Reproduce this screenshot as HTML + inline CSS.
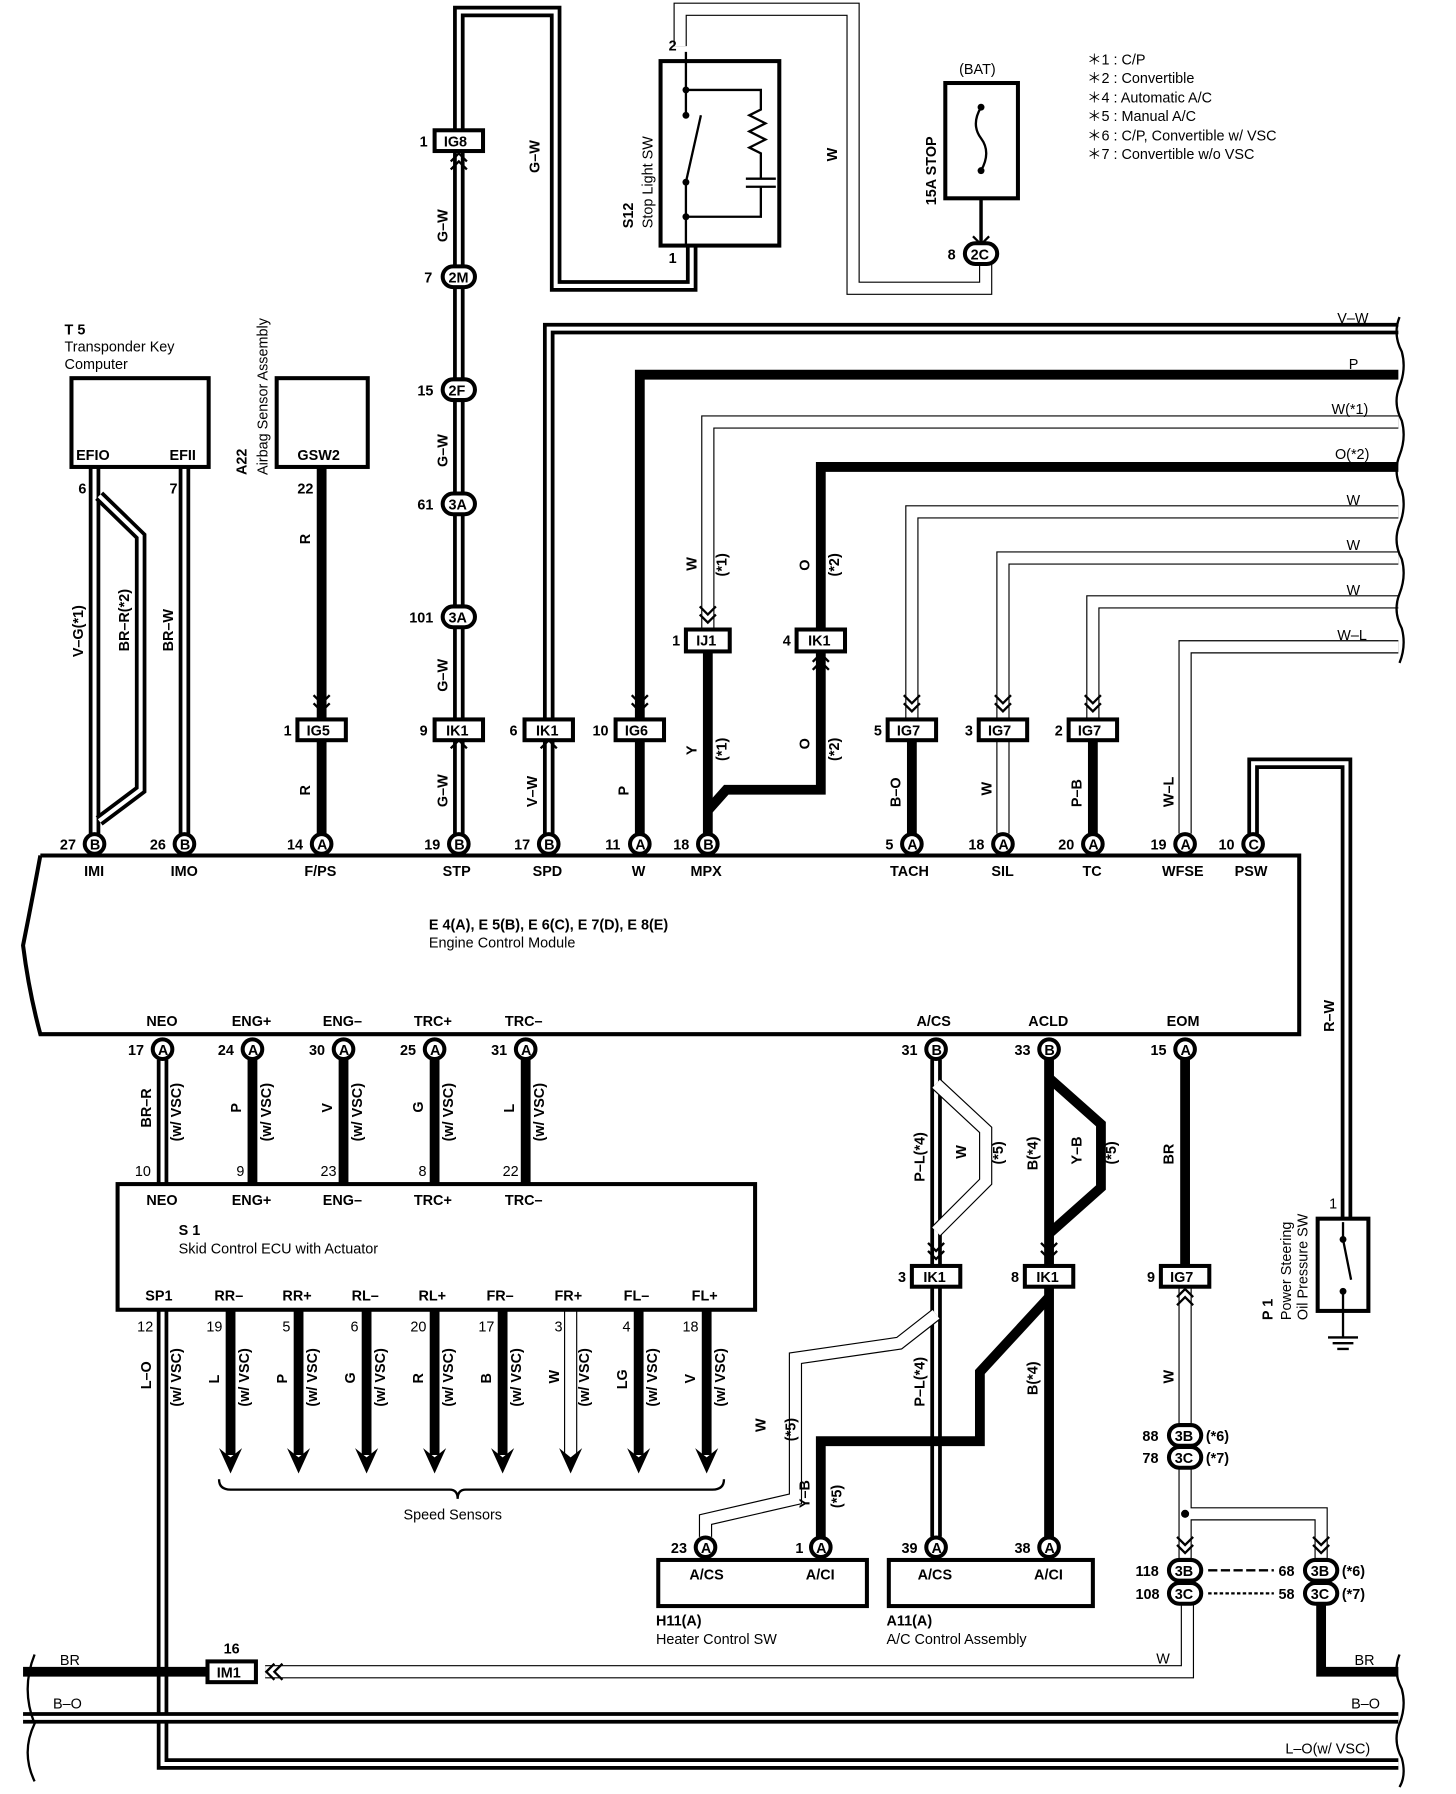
<!DOCTYPE html>
<html><head><meta charset="utf-8"><style>
html,body{margin:0;padding:0;background:#fff}
svg{display:block}
text{font-family:"Liberation Sans",sans-serif;font-weight:bold;font-size:12.5px;fill:#000}
.n{font-weight:normal}
.k{stroke:#000;stroke-width:8.5;fill:none;stroke-linejoin:miter}
.o{stroke:#000;stroke-width:10;fill:none}
.i{stroke:#fff;stroke-width:3.5;fill:none}
.wo{stroke:#000;stroke-width:11.5;fill:none}
.wi{stroke:#fff;stroke-width:9.5;fill:none}
.b{stroke:#000;stroke-width:3.5;fill:#fff}
.l{stroke:#000;stroke-width:2;fill:none}
</style></head><body>
<svg width="1456" height="1794" viewBox="0 0 1263 1556" preserveAspectRatio="none" xmlns="http://www.w3.org/2000/svg">
<defs>
<path id="d1" d="M398,113 V10 H482 V248 H600 V213"/>
<path id="d3" d="M398,131 V723"/>
<path id="d4" d="M1213,285 H476 V723"/>
<path id="d11" d="M1087,723 V662 H1168 V1060"/>
<path id="d12" d="M160,405 V723"/>
<path id="d13" d="M82,405 V723"/>
<path id="d13b" d="M86,430 L122,465 V685 L86,712"/>
<path id="d14" d="M141,919 V1027"/>
<path id="d15" d="M812,919 V1098"/>
<path id="d16" d="M812,1116 V1333"/>
<path id="d19" d="M141,1136 V1530 H1213"/>
<path id="d19b" d="M20,1490 H1213"/>
<path id="w2" d="M590,40 V8 H740 V250 H855 V228"/>
<path id="w5" d="M1213,366 H614 V546"/>
<path id="w6" d="M1213,444 H791 V624"/>
<path id="w7" d="M1213,484 H870 V624"/>
<path id="w8" d="M1213,522 H948 V624"/>
<path id="w9" d="M1213,561 H1028 V723"/>
<path id="w10" d="M870,642 V723"/>
<path id="w15b" d="M812,940 L855,980 V1025 L812,1068"/>
<path id="w17" d="M812,1140 L780,1165 L690,1178 V1300 L612,1318 V1333"/>
<path id="w18" d="M495,1136 V1265"/>
<path id="w20" d="M230,1450 H1030 V1392"/>
<path id="w21" d="M1028,1116 V1236"/>
<path id="w22" d="M1028,1273 V1352 M1028,1313 H1146 V1352"/>
</defs>

<g>
<use href="#d1" class="o"/><use href="#d1" class="i"/>
<use href="#d3" class="o"/><use href="#d3" class="i"/>
<use href="#d4" class="o"/><use href="#d4" class="i"/>
<use href="#d11" class="o"/><use href="#d11" class="i"/>
<use href="#d12" class="o"/><use href="#d12" class="i"/>
<use href="#d13" class="o"/><use href="#d13" class="i"/>
<use href="#d13b" class="o"/><use href="#d13b" class="i"/>
<use href="#d14" class="o"/><use href="#d14" class="i"/>
<use href="#d15" class="o"/><use href="#d15" class="i"/>
<use href="#d16" class="o"/><use href="#d16" class="i"/>
<use href="#d19" class="o"/><use href="#d19" class="i"/>
<use href="#d19b" class="o"/><use href="#d19b" class="i"/>
</g>
<g>
<use href="#w2" class="wo"/><use href="#w2" class="wi"/>
<use href="#w5" class="wo"/><use href="#w5" class="wi"/>
<use href="#w6" class="wo"/><use href="#w6" class="wi"/>
<use href="#w7" class="wo"/><use href="#w7" class="wi"/>
<use href="#w8" class="wo"/><use href="#w8" class="wi"/>
<use href="#w9" class="wo"/><use href="#w9" class="wi"/>
<use href="#w10" class="wo"/><use href="#w10" class="wi"/>
<use href="#w15b" class="wo"/><use href="#w15b" class="wi"/>
<use href="#w17" class="wo"/><use href="#w17" class="wi"/>
<use href="#w18" class="wo"/><use href="#w18" class="wi"/>
<use href="#w20" class="wo"/><use href="#w20" class="wi"/>
<use href="#w21" class="wo"/><use href="#w21" class="wi"/>
<use href="#w22" class="wo"/><use href="#w22" class="wi"/>
</g>
<g class="k">
<path d="M279,405 V723"/>
<path d="M1213,325 H555 V723"/>
<path d="M1213,405 H712 V546"/>
<path d="M712,565 V685 H630 L614,703"/>
<path d="M614,565 V723"/>
<path d="M791,642 V723"/><path d="M948,642 V723"/>
<path d="M219,919 V1027"/><path d="M298,919 V1027"/><path d="M377,919 V1027"/><path d="M456,919 V1027"/>
<path d="M910,919 V1098"/><path d="M910,935 L955,975 V1030 L910,1070"/>
<path d="M910,1116 V1333"/><path d="M910,1125 L850,1190 V1250 H712 V1333"/>
<path d="M1028,919 V1098"/>
<path d="M200,1136 V1262"/><path d="M259,1136 V1262"/><path d="M318,1136 V1262"/><path d="M377,1136 V1262"/><path d="M436,1136 V1262"/><path d="M554,1136 V1262"/><path d="M613,1136 V1262"/>
<path d="M20,1450 H180"/><path d="M1146,1392 V1450 H1213"/>
<path d="M851,150 V210" style="stroke-width:3"/>
</g>
<g fill="#000">
<path d="M190,1256 L200,1278 L210,1256 L200,1264Z"/><path d="M249,1256 L259,1278 L269,1256 L259,1264Z"/>
<path d="M308,1256 L318,1278 L328,1256 L318,1264Z"/><path d="M367,1256 L377,1278 L387,1256 L377,1264Z"/>
<path d="M426,1256 L436,1278 L446,1256 L436,1264Z"/><path d="M485,1256 L495,1278 L505,1256 L495,1264Z"/>
<path d="M544,1256 L554,1278 L564,1256 L554,1264Z"/><path d="M603,1256 L613,1278 L623,1256 L613,1264Z"/>
</g>
<path class="l" d="M190,1283 Q190,1292 200,1292 H390 Q397,1292 397,1300 Q397,1292 404,1292 H618 Q628,1292 628,1283"/>
<text x="350" y="1318" class="n">Speed Sensors</text>

<g class="l" stroke-width="3">
<path d="M391,140 L398,133 L405,140 M391,147 L398,140 L405,147"/>
<path d="M391,642 L398,635 L405,642 M391,649 L398,642 L405,649"/>
<path d="M469,642 L476,635 L483,642 M469,649 L476,642 L483,649"/>
<path d="M705,574 L712,567 L719,574 M705,581 L712,574 L719,581"/>
<path d="M1021,1125 L1028,1118 L1035,1125 M1021,1132 L1028,1125 L1035,1132"/>
<path d="M272,610 L279,617 L286,610 M272,603 L279,610 L286,603"/>
<path d="M548,610 L555,617 L562,610 M548,603 L555,610 L562,603"/>
<path d="M607,533 L614,540 L621,533 M607,526 L614,533 L621,526"/>
<path d="M784,610 L791,617 L798,610 M784,603 L791,610 L798,603"/>
<path d="M863,610 L870,617 L877,610 M863,603 L870,610 L877,603"/>
<path d="M941,610 L948,617 L955,610 M941,603 L948,610 L955,603"/>
<path d="M805,1085 L812,1092 L819,1085 M805,1078 L812,1085 L819,1078"/>
<path d="M903,1085 L910,1092 L917,1085 M903,1078 L910,1085 L917,1078"/>
<path d="M1021,1340 L1028,1347 L1035,1340 M1021,1333 L1028,1340 L1035,1333"/>
<path d="M1139,1340 L1146,1347 L1153,1340 M1139,1333 L1146,1340 L1153,1333"/>
<path d="M844,205 L851,212 L858,205"/>
<path d="M238,1443 L231,1450 L238,1457 M245,1443 L238,1450 L245,1457"/>
</g>
<circle cx="1028" cy="1313" r="3.5" fill="#000"/>

<rect x="62" y="328" width="119" height="77" class="b"/>
<rect x="240" y="328" width="79" height="77" class="b"/>
<rect x="573" y="53" width="103" height="160" class="b"/>
<rect x="820" y="72" width="63" height="100" class="b"/>
<rect x="1143" y="1057" width="44" height="80" class="b"/>
<rect x="102" y="1027" width="553" height="109" class="b"/>
<rect x="571" y="1353" width="181" height="40" class="b"/>
<rect x="771" y="1353" width="177" height="40" class="b"/>
<path d="M35,742 H1127 V897 H35 Q25,860 20,820 Q28,780 35,742" class="b"/>
<path d="M30,1435 Q18,1465 30,1495 Q18,1520 30,1545" class="l"/>
<path d="M1214,275 Q1208,290 1216,305 Q1220,320 1214,335 Q1208,350 1216,365 Q1220,380 1214,395 Q1208,410 1216,425 Q1220,440 1214,455 Q1208,470 1216,485 Q1220,500 1214,515 Q1208,530 1216,545 Q1220,560 1214,575" class="l" stroke-width="2.5"/>
<path d="M1214,1435 Q1208,1450 1216,1465 Q1220,1480 1214,1495 Q1208,1510 1216,1525 Q1220,1540 1214,1550" class="l" stroke-width="2.5"/>

<g class="l">
<path d="M595,45 V100 M595,158 V213 M595,78 H660 V95 L650,100 L664,107 L650,114 L664,121 L650,128 L660,133 V155 M647,155 H673 M647,162 H673 M660,162 V188 H595"/>
<path d="M595,158 L608,100"/>
</g>
<g fill="#000"><circle cx="595" cy="78" r="3"/><circle cx="595" cy="100" r="3"/><circle cx="595" cy="158" r="3"/><circle cx="595" cy="188" r="3"/></g>
<path d="M851,93 Q842,108 851,120 Q860,132 851,148" class="l" stroke-width="3"/>
<circle cx="851" cy="93" r="3" fill="#000"/><circle cx="851" cy="148" r="3" fill="#000"/>
<g class="l"><path d="M1165,1060 V1075 L1172,1110 M1165,1120 V1160 M1152,1160 H1178 M1156,1165 H1174 M1160,1170 H1170"/></g>
<circle cx="1165" cy="1075" r="3" fill="#000"/><circle cx="1165" cy="1120" r="3" fill="#000"/>

<g>
<rect x="377" y="113" width="42" height="18" class="b"/><text x="385" y="127">IG8</text><text x="364" y="127">1</text>
<rect x="258" y="624" width="42" height="18" class="b"/><text x="266" y="638">IG5</text><text x="246" y="638">1</text>
<rect x="377" y="624" width="42" height="18" class="b"/><text x="387" y="638">IK1</text><text x="364" y="638">9</text>
<rect x="455" y="624" width="42" height="18" class="b"/><text x="465" y="638">IK1</text><text x="442" y="638">6</text>
<rect x="534" y="624" width="42" height="18" class="b"/><text x="542" y="638">IG6</text><text x="514" y="638">10</text>
<rect x="595" y="546" width="38" height="19" class="b"/><text x="604" y="560">IJ1</text><text x="583" y="560">1</text>
<rect x="691" y="546" width="42" height="19" class="b"/><text x="701" y="560">IK1</text><text x="679" y="560">4</text>
<rect x="770" y="624" width="42" height="18" class="b"/><text x="778" y="638">IG7</text><text x="758" y="638">5</text>
<rect x="849" y="624" width="42" height="18" class="b"/><text x="857" y="638">IG7</text><text x="837" y="638">3</text>
<rect x="927" y="624" width="42" height="18" class="b"/><text x="935" y="638">IG7</text><text x="915" y="638">2</text>
<rect x="791" y="1098" width="42" height="18" class="b"/><text x="801" y="1112">IK1</text><text x="779" y="1112">3</text>
<rect x="889" y="1098" width="42" height="18" class="b"/><text x="899" y="1112">IK1</text><text x="877" y="1112">8</text>
<rect x="1007" y="1098" width="42" height="18" class="b"/><text x="1015" y="1112">IG7</text><text x="995" y="1112">9</text>
<rect x="180" y="1441" width="42" height="18" class="b"/><text x="188" y="1455">IM1</text><text x="194" y="1434">16</text>
</g>

<g>
<rect x="384" y="231" width="28" height="18" rx="9" class="b"/><text x="389" y="245">2M</text><text x="368" y="245">7</text>
<rect x="384" y="329" width="28" height="18" rx="9" class="b"/><text x="389" y="343">2F</text><text x="362" y="343">15</text>
<rect x="384" y="428" width="28" height="18" rx="9" class="b"/><text x="389" y="442">3A</text><text x="362" y="442">61</text>
<rect x="384" y="526" width="28" height="18" rx="9" class="b"/><text x="389" y="540">3A</text><text x="355" y="540">101</text>
<rect x="837" y="211" width="28" height="18" rx="9" class="b"/><text x="842" y="225">2C</text><text x="822" y="225">8</text>
<rect x="1014" y="1236" width="28" height="18" rx="9" class="b"/><text x="1019" y="1250">3B</text><text x="991" y="1250">88</text><text x="1046" y="1250">(*6)</text>
<rect x="1014" y="1255" width="28" height="18" rx="9" class="b"/><text x="1019" y="1269">3C</text><text x="991" y="1269">78</text><text x="1046" y="1269">(*7)</text>
<rect x="1014" y="1353" width="28" height="18" rx="9" class="b"/><text x="1019" y="1367">3B</text><text x="985" y="1367">118</text>
<rect x="1014" y="1373" width="28" height="18" rx="9" class="b"/><text x="1019" y="1387">3C</text><text x="985" y="1387">108</text>
<rect x="1132" y="1353" width="28" height="18" rx="9" class="b"/><text x="1137" y="1367">3B</text><text x="1109" y="1367">68</text><text x="1164" y="1367">(*6)</text>
<rect x="1132" y="1373" width="28" height="18" rx="9" class="b"/><text x="1137" y="1387">3C</text><text x="1109" y="1387">58</text><text x="1164" y="1387">(*7)</text>
<path d="M1048,1362 H1105" class="l" stroke-dasharray="8,3"/>
<path d="M1048,1382 H1105" class="l" stroke-dasharray="3,2"/>
</g>

<g>
<circle cx="82" cy="732" r="8.5" class="b"/><text x="78" y="737">B</text><text x="52" y="737">27</text>
<circle cx="160" cy="732" r="8.5" class="b"/><text x="156" y="737">B</text><text x="130" y="737">26</text>
<circle cx="279" cy="732" r="8.5" class="b"/><text x="275" y="737">A</text><text x="249" y="737">14</text>
<circle cx="398" cy="732" r="8.5" class="b"/><text x="394" y="737">B</text><text x="368" y="737">19</text>
<circle cx="476" cy="732" r="8.5" class="b"/><text x="472" y="737">B</text><text x="446" y="737">17</text>
<circle cx="555" cy="732" r="8.5" class="b"/><text x="551" y="737">A</text><text x="525" y="737">11</text>
<circle cx="614" cy="732" r="8.5" class="b"/><text x="610" y="737">B</text><text x="584" y="737">18</text>
<circle cx="791" cy="732" r="8.5" class="b"/><text x="787" y="737">A</text><text x="768" y="737">5</text>
<circle cx="870" cy="732" r="8.5" class="b"/><text x="866" y="737">A</text><text x="840" y="737">18</text>
<circle cx="948" cy="732" r="8.5" class="b"/><text x="944" y="737">A</text><text x="918" y="737">20</text>
<circle cx="1028" cy="732" r="8.5" class="b"/><text x="1024" y="737">A</text><text x="998" y="737">19</text>
<circle cx="1087" cy="732" r="8.5" class="b"/><text x="1083" y="737">C</text><text x="1057" y="737">10</text>
<circle cx="141" cy="910" r="8.5" class="b"/><text x="137" y="915">A</text><text x="111" y="915">17</text>
<circle cx="219" cy="910" r="8.5" class="b"/><text x="215" y="915">A</text><text x="189" y="915">24</text>
<circle cx="298" cy="910" r="8.5" class="b"/><text x="294" y="915">A</text><text x="268" y="915">30</text>
<circle cx="377" cy="910" r="8.5" class="b"/><text x="373" y="915">A</text><text x="347" y="915">25</text>
<circle cx="456" cy="910" r="8.5" class="b"/><text x="452" y="915">A</text><text x="426" y="915">31</text>
<circle cx="812" cy="910" r="8.5" class="b"/><text x="808" y="915">B</text><text x="782" y="915">31</text>
<circle cx="910" cy="910" r="8.5" class="b"/><text x="906" y="915">B</text><text x="880" y="915">33</text>
<circle cx="1028" cy="910" r="8.5" class="b"/><text x="1024" y="915">A</text><text x="998" y="915">15</text>
<circle cx="612" cy="1342" r="8.5" class="b"/><text x="608" y="1347">A</text><text x="582" y="1347">23</text>
<circle cx="712" cy="1342" r="8.5" class="b"/><text x="708" y="1347">A</text><text x="690" y="1347">1</text>
<circle cx="812" cy="1342" r="8.5" class="b"/><text x="808" y="1347">A</text><text x="782" y="1347">39</text>
<circle cx="910" cy="1342" r="8.5" class="b"/><text x="906" y="1347">A</text><text x="880" y="1347">38</text>
</g>

<text x="56" y="290">T 5</text>
<text x="56" y="305" class="n">Transponder Key</text>
<text x="56" y="320" class="n">Computer</text>
<text x="66" y="399">EFIO</text><text x="147" y="399">EFII</text>
<text x="258" y="399">GSW2</text>
<text x="68" y="428">6</text><text x="147" y="428">7</text><text x="258" y="428">22</text>
<text transform="translate(214,412) rotate(-90)">A22</text>
<text transform="translate(232,412) rotate(-90)" class="n">Airbag Sensor Assembly</text>
<text transform="translate(549,198) rotate(-90)">S12</text>
<text transform="translate(566,198) rotate(-90)" class="n">Stop Light SW</text>
<text x="580" y="44">2</text><text x="580" y="228">1</text>
<text x="832" y="64" class="n">(BAT)</text>
<text transform="translate(812,178) rotate(-90)">15A STOP</text>
<text x="943" y="56" class="n">＊1 : C/P</text>
<text x="943" y="72" class="n">＊2 : Convertible</text>
<text x="943" y="89" class="n">＊4 : Automatic A/C</text>
<text x="943" y="105" class="n">＊5 : Manual A/C</text>
<text x="943" y="122" class="n">＊6 : C/P,  Convertible w/ VSC</text>
<text x="943" y="138" class="n">＊7 : Convertible w/o VSC</text>

<text x="73" y="760">IMI</text><text x="148" y="760">IMO</text><text x="264" y="760">F/PS</text><text x="384" y="760">STP</text>
<text x="462" y="760">SPD</text><text x="548" y="760">W</text><text x="599" y="760">MPX</text><text x="772" y="760">TACH</text>
<text x="860" y="760">SIL</text><text x="939" y="760">TC</text><text x="1008" y="760">WFSE</text><text x="1071" y="760">PSW</text>
<text x="372" y="806">E 4(A), E 5(B), E 6(C), E 7(D), E 8(E)</text>
<text x="372" y="822" class="n">Engine Control Module</text>
<text x="127" y="890">NEO</text><text x="201" y="890">ENG+</text><text x="280" y="890">ENG–</text><text x="359" y="890">TRC+</text><text x="438" y="890">TRC–</text>
<text x="795" y="890">A/CS</text><text x="892" y="890">ACLD</text><text x="1012" y="890">EOM</text>

<text x="127" y="1045">NEO</text><text x="201" y="1045">ENG+</text><text x="280" y="1045">ENG–</text><text x="359" y="1045">TRC+</text><text x="438" y="1045">TRC–</text>
<text x="117" y="1020" class="n">10</text><text x="205" y="1020" class="n">9</text><text x="278" y="1020" class="n">23</text><text x="363" y="1020" class="n">8</text><text x="436" y="1020" class="n">22</text>
<text x="155" y="1071">S 1</text>
<text x="155" y="1087" class="n">Skid Control ECU with Actuator</text>
<text x="126" y="1128">SP1</text><text x="186" y="1128">RR–</text><text x="245" y="1128">RR+</text><text x="305" y="1128">RL–</text><text x="363" y="1128">RL+</text>
<text x="422" y="1128">FR–</text><text x="481" y="1128">FR+</text><text x="541" y="1128">FL–</text><text x="600" y="1128">FL+</text>
<text x="119" y="1155" class="n">12</text><text x="179" y="1155" class="n">19</text><text x="245" y="1155" class="n">5</text><text x="304" y="1155" class="n">6</text>
<text x="356" y="1155" class="n">20</text><text x="415" y="1155" class="n">17</text><text x="481" y="1155" class="n">3</text><text x="540" y="1155" class="n">4</text><text x="592" y="1155" class="n">18</text>

<text x="598" y="1370">A/CS</text><text x="699" y="1370">A/CI</text>
<text x="796" y="1370">A/CS</text><text x="897" y="1370">A/CI</text>
<text x="569" y="1410">H11(A)</text><text x="569" y="1426" class="n">Heater Control SW</text>
<text x="769" y="1410">A11(A)</text><text x="769" y="1426" class="n">A/C Control Assembly</text>
<text transform="translate(1104,1145) rotate(-90)">P 1</text>
<text transform="translate(1120,1145) rotate(-90)" class="n">Power Steering</text>
<text transform="translate(1134,1145) rotate(-90)" class="n">Oil Pressure SW</text>
<text x="1153" y="1048" class="n">1</text>

<text x="1160" y="280" class="n">V–W</text><text x="1170" y="320" class="n">P</text><text x="1155" y="359" class="n">W(*1)</text>
<text x="1158" y="398" class="n">O(*2)</text><text x="1168" y="438" class="n">W</text><text x="1168" y="477" class="n">W</text>
<text x="1168" y="516" class="n">W</text><text x="1160" y="555" class="n">W–L</text>
<text x="52" y="1444" class="n">BR</text><text x="46" y="1482" class="n">B–O</text>
<text x="1175" y="1444" class="n">BR</text><text x="1172" y="1482" class="n">B–O</text><text x="1115" y="1521" class="n">L–O(w/ VSC)</text>
<text x="1003" y="1443" class="n">W</text>

<g class="n">
<text transform="translate(388,210) rotate(-90)">G–W</text>
<text transform="translate(468,150) rotate(-90)">G–W</text>
<text transform="translate(726,140) rotate(-90)">W</text>
<text transform="translate(388,405) rotate(-90)">G–W</text>
<text transform="translate(388,600) rotate(-90)">G–W</text>
<text transform="translate(388,700) rotate(-90)">G–W</text>
<text transform="translate(466,700) rotate(-90)">V–W</text>
<text transform="translate(545,690) rotate(-90)">P</text>
<text transform="translate(269,690) rotate(-90)">R</text>
<text transform="translate(269,472) rotate(-90)">R</text>
<text transform="translate(72,570) rotate(-90)">V–G(*1)</text>
<text transform="translate(112,565) rotate(-90)">BR–R(*2)</text>
<text transform="translate(150,565) rotate(-90)">BR–W</text>
<text transform="translate(604,495) rotate(-90)">W</text>
<text transform="translate(630,500) rotate(-90)">(*1)</text>
<text transform="translate(604,655) rotate(-90)">Y</text>
<text transform="translate(630,660) rotate(-90)">(*1)</text>
<text transform="translate(702,495) rotate(-90)">O</text>
<text transform="translate(728,500) rotate(-90)">(*2)</text>
<text transform="translate(702,650) rotate(-90)">O</text>
<text transform="translate(728,660) rotate(-90)">(*2)</text>
<text transform="translate(781,700) rotate(-90)">B–O</text>
<text transform="translate(860,690) rotate(-90)">W</text>
<text transform="translate(938,700) rotate(-90)">P–B</text>
<text transform="translate(1018,700) rotate(-90)">W–L</text>
<text transform="translate(1157,895) rotate(-90)">R–W</text>
<text transform="translate(131,978) rotate(-90)">BR–R</text>
<text transform="translate(157,990) rotate(-90)">(w/ VSC)</text>
<text transform="translate(209,965) rotate(-90)">P</text>
<text transform="translate(235,990) rotate(-90)">(w/ VSC)</text>
<text transform="translate(288,965) rotate(-90)">V</text>
<text transform="translate(314,990) rotate(-90)">(w/ VSC)</text>
<text transform="translate(367,965) rotate(-90)">G</text>
<text transform="translate(393,990) rotate(-90)">(w/ VSC)</text>
<text transform="translate(446,965) rotate(-90)">L</text>
<text transform="translate(472,990) rotate(-90)">(w/ VSC)</text>
<text transform="translate(802,1025) rotate(-90)">P–L(*4)</text>
<text transform="translate(838,1005) rotate(-90)">W</text>
<text transform="translate(870,1010) rotate(-90)">(*5)</text>
<text transform="translate(900,1015) rotate(-90)">B(*4)</text>
<text transform="translate(938,1010) rotate(-90)">Y–B</text>
<text transform="translate(968,1010) rotate(-90)">(*5)</text>
<text transform="translate(1018,1010) rotate(-90)">BR</text>
<text transform="translate(802,1220) rotate(-90)">P–L(*4)</text>
<text transform="translate(900,1210) rotate(-90)">B(*4)</text>
<text transform="translate(1018,1200) rotate(-90)">W</text>
<text transform="translate(664,1242) rotate(-90)">W</text>
<text transform="translate(690,1250) rotate(-90)">(*5)</text>
<text transform="translate(702,1308) rotate(-90)">Y–B</text>
<text transform="translate(730,1308) rotate(-90)">(*5)</text>
<text transform="translate(131,1205) rotate(-90)">L–O</text>
<text transform="translate(157,1220) rotate(-90)">(w/ VSC)</text>
<text transform="translate(190,1200) rotate(-90)">L</text>
<text transform="translate(216,1220) rotate(-90)">(w/ VSC)</text>
<text transform="translate(249,1200) rotate(-90)">P</text>
<text transform="translate(275,1220) rotate(-90)">(w/ VSC)</text>
<text transform="translate(308,1200) rotate(-90)">G</text>
<text transform="translate(334,1220) rotate(-90)">(w/ VSC)</text>
<text transform="translate(367,1200) rotate(-90)">R</text>
<text transform="translate(393,1220) rotate(-90)">(w/ VSC)</text>
<text transform="translate(426,1200) rotate(-90)">B</text>
<text transform="translate(452,1220) rotate(-90)">(w/ VSC)</text>
<text transform="translate(485,1200) rotate(-90)">W</text>
<text transform="translate(511,1220) rotate(-90)">(w/ VSC)</text>
<text transform="translate(544,1205) rotate(-90)">LG</text>
<text transform="translate(570,1220) rotate(-90)">(w/ VSC)</text>
<text transform="translate(603,1200) rotate(-90)">V</text>
<text transform="translate(629,1220) rotate(-90)">(w/ VSC)</text>
</g>
</svg>
</body></html>
